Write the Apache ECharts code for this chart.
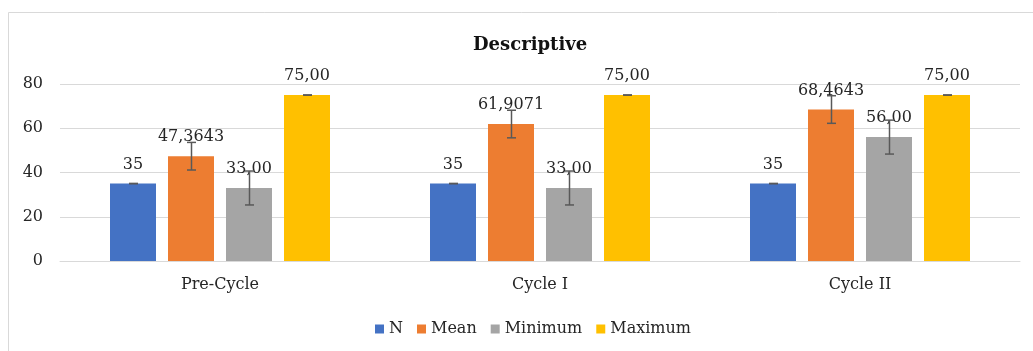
<!DOCTYPE html>
<html>
<head>
<meta charset="utf-8">
<title>Descriptive</title>
<script src="https://cdn.jsdelivr.net/npm/echarts@6/dist/echarts.min.js"></script>
<style>
  html, body { margin: 0; padding: 0; background: #ffffff; }
  #chart { width: 1033px; height: 351px; }
</style>
</head>
<body>
<div id="chart"></div>
<script>
// Descriptive statistics per cycle
const categories = ['Pre-Cycle', 'Cycle I', 'Cycle II'];
const seriesNames = ['N', 'Mean', 'Minimum', 'Maximum'];
const nValues = [35, 35, 35];
const meanValues = [47.3643, 61.9071, 68.4643];
const minValues = [33, 33, 56];
const maxValues = [75, 75, 75];
// standard error shown as error bars, one per series
const errorMargins = [0, 6.24, 7.67, 0];
// decimals shown in each series' value labels
const labelDecimals = [0, 4, 2, 2];
const yTicks = [0, 20, 40, 60, 80];

const allValues = [nValues, meanValues, minValues, maxValues];
const colors = ['#4472C4', '#ED7D31', '#A5A5A5', '#FFC000'];
const FONT = 'DejaVu Serif';
const TEXT = '#262626';
const BAR_W = 46;
const BAR_GAP = 12;
const CAP = 9;

function fmt(v, d) {
  return v.toFixed(d).replace('.', ',');
}

const barSeries = seriesNames.map((name, s) => ({
  name: name,
  type: 'bar',
  data: allValues[s],
  barWidth: BAR_W,
  barGap: (BAR_GAP / BAR_W * 100) + '%',
  itemStyle: { color: colors[s] },
  z: 2,
  label: {
    show: true,
    position: 'top',
    distance: 11,
    color: TEXT,
    fontFamily: FONT,
    fontSize: 16,
    formatter: p => fmt(p.value, labelDecimals[s])
  }
}));

const errorSeries = seriesNames.map((name, s) => ({
  name: name + ' error',
  type: 'custom',
  z: 5,
  data: allValues[s].map((v, i) => [i, v, errorMargins[s]]),
  encode: { x: 0, y: 1 },
  renderItem: function (params, api) {
    const idx = api.value(0);
    const v = api.value(1);
    const e = api.value(2);
    const offset = (s - 1.5) * (BAR_W + BAR_GAP);
    const x = Math.round(api.coord([idx, v])[0] + offset) + 0.5;
    const yTop = api.coord([idx, v + e])[1];
    const yBot = api.coord([idx, v - e])[1];
    const style = { stroke: '#595959', lineWidth: 1.5 };
    return {
      type: 'group',
      children: [
        { type: 'line', shape: { x1: x, y1: yTop, x2: x, y2: yBot }, style: style },
        { type: 'line', shape: { x1: x - CAP / 2, y1: yTop, x2: x + CAP / 2, y2: yTop }, style: style },
        { type: 'line', shape: { x1: x - CAP / 2, y1: yBot, x2: x + CAP / 2, y2: yBot }, style: style }
      ]
    };
  }
}));

const chart = echarts.init(document.getElementById('chart'), null, { renderer: 'canvas' });
chart.setOption({
  animation: false,
  backgroundColor: '#ffffff',
  title: {
    text: 'Descriptive',
    left: 468,
    top: 31,
    textStyle: { fontFamily: FONT, fontSize: 18, fontWeight: 'bold', color: '#111111' }
  },
  graphic: [{
    type: 'rect',
    shape: { x: 8.5, y: 12.5, width: 1100, height: 400 },
    style: { fill: 'none', stroke: '#d9d9d9', lineWidth: 1 },
    silent: true
  }],
  legend: {
    data: seriesNames,
    left: 370,
    top: 316,
    itemWidth: 9,
    itemHeight: 9,
    itemGap: 14,
    icon: 'rect',
    textStyle: { fontFamily: FONT, fontSize: 16, color: TEXT }
  },
  grid: { left: 60, right: 13, top: 84, bottom: 90, containLabel: false },
  xAxis: {
    type: 'category',
    data: categories,
    axisLine: { show: true, lineStyle: { color: '#d9d9d9', width: 1 } },
    axisTick: { show: false },
    axisLabel: { color: TEXT, fontFamily: FONT, fontSize: 16, margin: 16 }
  },
  yAxis: {
    type: 'value',
    min: yTicks[0],
    max: yTicks[yTicks.length - 1],
    interval: yTicks[1] - yTicks[0],
    axisLine: { show: false },
    axisTick: { show: false },
    splitLine: { lineStyle: { color: '#d9d9d9', width: 1 } },
    axisLabel: { color: TEXT, fontFamily: FONT, fontSize: 16, margin: 17 }
  },
  series: barSeries.concat(errorSeries)
});
</script>
</body>
</html>
